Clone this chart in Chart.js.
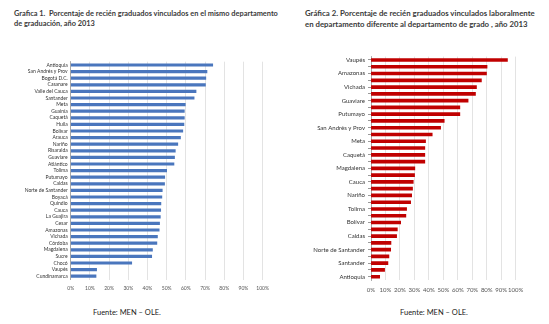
<!DOCTYPE html>
<html>
<head>
<meta charset="utf-8">
<script src="https://cdn.jsdelivr.net/npm/chart.js@4"></script>
<style>
  body { margin: 0; background: #fff; width: 549px; height: 324px; overflow: hidden; position: relative; font-family: Lato, sans-serif; }
  .title { position: absolute; font-weight: bold; color: #3a3a3a; font-size: 7.4px; line-height: 10px; white-space: nowrap; }
  .foot { position: absolute; color: #222; font-size: 7.5px; white-space: nowrap; }
  .box { position: absolute; }
</style>
</head>
<body>
<div class="title" style="left:14px;top:9px;">Grafica 1.&nbsp; Porcentaje de recién graduados vinculados en el mismo departamento<br>de graduación, año 2013</div>
<div class="title" style="left:305px;top:8px;font-size:7.8px;line-height:11px;">Gráfica 2. Porcentaje de recién graduados vinculados laboralmente<br>en departamento diferente al departamento de grado , año 2013</div>
<div class="box" style="left:0;top:50px;width:275px;height:250px;"><canvas id="c1" width="275" height="250"></canvas></div>
<div class="box" style="left:280px;top:50px;width:269px;height:250px;"><canvas id="c2" width="269" height="250"></canvas></div>
<div class="foot" style="left:93px;top:308px;">Fuente: MEN – OLE.</div>
<div class="foot" style="left:400px;top:308px;">Fuente: MEN – OLE.</div>
<script>
// Gráfica 1: mismo departamento
const deptSame = ['Antioquia', 'San Andrés y Prov', 'Bogotá D.C.', 'Casanare', 'Valle del Cauca', 'Santander',
  'Meta', 'Guainía', 'Caquetá', 'Huila', 'Bolívar', 'Arauca', 'Nariño', 'Risaralda', 'Guaviare', 'Atlántico',
  'Tolima', 'Putumayo', 'Caldas', 'Norte de Santander', 'Boyacá', 'Quindío', 'Cauca', 'La Guajira', 'Cesar',
  'Amazonas', 'Vichada', 'Córdoba', 'Magdalena', 'Sucre', 'Chocó', 'Vaupés', 'Cundinamarca'];
const pctSame = [74, 71, 70.4, 70.2, 65.3, 64.3, 59.7, 59.2, 59.2, 59, 58.4, 57.2, 55.8, 54.5, 54.1, 53.8,
  50, 49, 48.9, 47.7, 47.5, 47, 46.9, 46.7, 46.3, 46.1, 45.2, 44.9, 42.6, 42.2, 31.8, 13.5, 13.2];

// Gráfica 2: departamento diferente (solo se rotula una de cada dos)
const deptOther = ['Vaupés', 'Guainía', 'Amazonas', 'Casanare', 'Vichada', 'Arauca', 'Guaviare', 'Chocó',
  'Putumayo', 'La Guajira', 'San Andrés y Prov', 'Sucre', 'Meta', 'Huila', 'Caquetá', 'Cesar', 'Magdalena',
  'Córdoba', 'Cauca', 'Quindío', 'Nariño', 'Boyacá', 'Tolima', 'Risaralda', 'Bolívar', 'Cundinamarca', 'Caldas',
  'Atlántico', 'Norte de Santander', 'Valle del Cauca', 'Santander', 'Bogotá D.C.', 'Antioquia'];
const pctOther = [94.3, 80.2, 79.8, 76.3, 72.9, 72.2, 67.1, 61.4, 61.4, 50.6, 48.1, 42.3, 37.7, 37.2, 37.2, 37.2,
  30.3, 30.1, 29.2, 28.7, 28.1, 27.4, 24.6, 24.1, 20.5, 18.2, 17.7, 13.8, 13.6, 12.4, 11.7, 9.4, 6];

const pctTicks = [0, 10, 20, 30, 40, 50, 60, 70, 80, 90, 100];

function makeChart(id, labels, values, color, cfg) {
  return new Chart(document.getElementById(id), {
    type: 'bar',
    data: {
      labels: labels,
      datasets: [{ data: values, backgroundColor: color, barThickness: cfg.bar, borderWidth: 0 }]
    },
    options: {
      indexAxis: 'y',
      responsive: false,
      animation: false,
      layout: { padding: { left: 0, right: cfg.right, top: cfg.top, bottom: 0 } },
      plugins: { legend: { display: false }, tooltip: { enabled: false } },
      scales: {
        x: {
          min: 0, max: 100,
          afterBuildTicks: s => { s.ticks = pctTicks.map(v => ({ value: v })); },
          afterFit: s => { s.height = cfg.xh; },
          grid: { color: '#dcdcdc', lineWidth: 0.8, drawTicks: false },
          border: { display: false },
          ticks: { callback: v => v + '%', color: '#555', font: { family: 'Lato', size: cfg.xfs }, padding: 6, maxRotation: 0, autoSkip: false }
        },
        y: {
          afterFit: s => { s.width = cfg.yw; },
          grid: { display: cfg.yticks, drawOnChartArea: false, drawTicks: cfg.yticks, tickLength: 3, color: '#999', offset: false },
          border: { display: true, color: '#999', width: 0.8 },
          ticks: {
            autoSkip: false, color: '#333', padding: 3,
            font: { family: 'Lato', size: cfg.yfs },
            callback: (v, i) => (i % cfg.step === 0 ? labels[i] : '')
          }
        }
      }
    }
  });
}

makeChart('c1', deptSame, pctSame, '#4a76bd', { bar: 2.5, right: 8.3, top: 11.7, xh: 20.5, yw: 70.7, xfs: 5, yfs: 5, yticks: false, step: 1 });
makeChart('c2', deptOther, pctOther, '#c00000', { bar: 3, right: 33.3, top: 3.9, xh: 19.9, yw: 91, xfs: 6, yfs: 6, yticks: true, step: 2 });
</script>
</body>
</html>
